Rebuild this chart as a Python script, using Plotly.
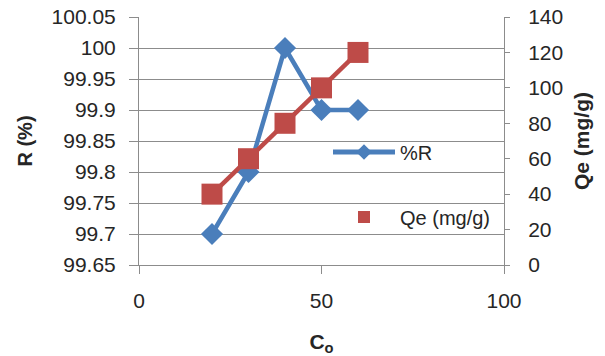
import plotly.graph_objects as go

co = [20, 30, 40, 50, 60]
r_pct = [99.7, 99.8, 100.0, 99.9, 99.9]
qe = [40, 60, 80, 100, 120]

left_ticks = [99.65, 99.7, 99.75, 99.8, 99.85, 99.9, 99.95, 100.0, 100.05]
left_labels = ["99.65", "99.7", "99.75", "99.8", "99.85", "99.9", "99.95", "100", "100.05"]

BLUE = "#4A7EBB"
RED = "#BE4B48"
GRID = "#8C8C8C"
TXT = "#262626"
FONT = "Liberation Sans"

fig = go.Figure()
fig.add_trace(go.Scatter(
    x=co, y=r_pct, name="%R", mode="lines+markers",
    line=dict(color=BLUE, width=4.5),
    marker=dict(symbol="diamond", size=17, color=BLUE),
    legend="legend", yaxis="y"))
fig.add_trace(go.Scatter(
    x=co, y=qe, name="Qe (mg/g)", mode="lines+markers",
    line=dict(color=RED, width=4.5),
    marker=dict(symbol="square", size=21, color=RED),
    showlegend=False, yaxis="y2"))
fig.add_trace(go.Scatter(
    x=[None], y=[None], name="Qe (mg/g)", mode="markers",
    marker=dict(symbol="square", size=13, color=RED),
    legend="legend2", yaxis="y2"))

L, R, T, B = 139, 101, 17, 91
W, H = 605, 356
pw, ph = W - L - R, H - T - B

def px_x(p):
    return (p - L) / pw

def px_y(p):
    return (H - B - p) / ph

fig.update_layout(
    width=W, height=H,
    margin=dict(l=L, r=R, t=T, b=B, pad=0),
    paper_bgcolor="white", plot_bgcolor="white",
    font=dict(family=FONT, size=21, color=TXT),
    xaxis=dict(range=[0, 100], tickvals=[0, 50, 100], showgrid=False,
               showline=True, linecolor=GRID, linewidth=1,
               ticks="outside", ticklen=8, tickcolor=GRID,
               zeroline=False, ticklabelstandoff=9, automargin=False,
               title=dict(text="<b>C<sub>o</sub></b>", font=dict(size=21), standoff=28)),
    yaxis=dict(range=[99.65, 100.05], tickvals=left_ticks, ticktext=left_labels,
               showgrid=True, gridcolor=GRID, gridwidth=1,
               showline=True, linecolor=GRID, linewidth=1,
               ticks="outside", ticklen=9, tickcolor=GRID, zeroline=False,
               ticklabelstandoff=9, automargin=False,
               title=dict(text="<b>R (%)</b>", font=dict(size=20), standoff=13)),
    yaxis2=dict(range=[0, 140], dtick=20, overlaying="y", side="right",
                showgrid=False, showline=True, linecolor=GRID, linewidth=1,
                ticks="outside", ticklen=5, tickcolor=GRID, zeroline=False,
                ticklabelstandoff=14, automargin=False,
                title=dict(text="<b>Qe (mg/g)</b>", font=dict(size=21), standoff=12)),
    legend=dict(x=px_x(328), y=px_y(152), xanchor="left", yanchor="middle",
                bgcolor="rgba(0,0,0,0)", itemwidth=62, itemsizing="constant",
                font=dict(size=20)),
    legend2=dict(x=px_x(328), y=px_y(217), xanchor="left", yanchor="middle",
                 bgcolor="rgba(0,0,0,0)", itemwidth=62, itemsizing="constant",
                 font=dict(size=20)),
    showlegend=True,
)

fig.write_html("out.html")
